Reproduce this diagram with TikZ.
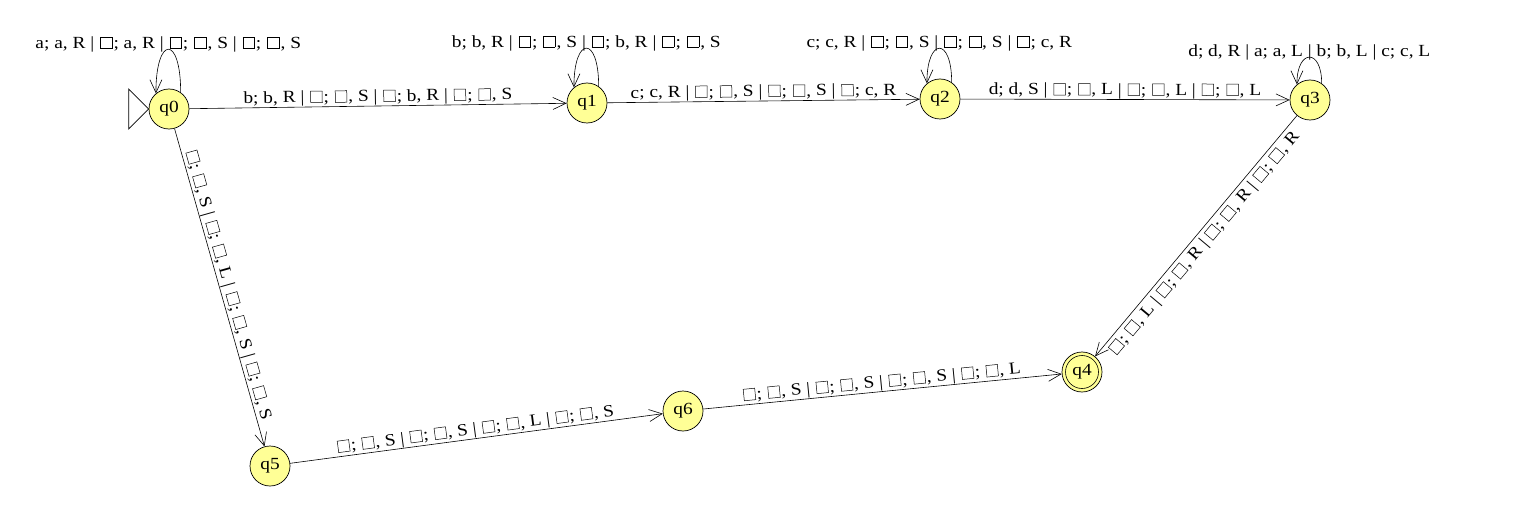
\documentclass[tikz,border=0pt]{standalone}
\usepackage{fontspec}
\setmainfont[FakeStretch=1.14]{Liberation Serif}
\usetikzlibrary{arrows.meta}
\definecolor{stfill}{RGB}{255,255,150}
\newcommand\tbx{\hspace{1.2pt}{\setlength{\fboxsep}{0pt}\setlength{\fboxrule}{0.5pt}\fbox{\rule{0pt}{11pt}\hspace{11pt}}}\hspace{1.2pt}}
\begin{document}
\begin{tikzpicture}[x=1pt,y=-1pt,font=\fontsize{17}{20}\selectfont,
  state/.style={circle, draw, line width=0.7pt, fill=stfill, minimum size=40pt, inner sep=0pt},
  edge/.style={draw, line width=0.6pt, -{Straight Barb[length=13pt,width=12pt,line width=0.6pt]}},
  lab/.style={inner sep=0.5pt, sloped},
  looplab/.style={anchor=base, inner sep=0pt, yshift=1pt}]
\useasboundingbox (0,0) rectangle (1526,532);
\node[state] (q0) at (169,109) {q0};
\node[state] (q1) at (587,103) {q1};
\node[state] (q2) at (940,99) {q2};
\node[state] (q3) at (1310,100) {q3};
\node[state] (q4) at (1082,372) {q4};
\node[state] (q5) at (270,466) {q5};
\node[state] (q6) at (683,411) {q6};
\draw[line width=0.6pt] (q4.center) circle[radius=16.5pt];
% initial marker
\draw[line width=0.7pt] (q0.west) -- ++(-20,-20) -- ++(0,40) -- cycle;
% loops
\draw[edge] (q0.55) .. controls +(0,-58) and +(0,-58) .. (q0.130)
  node[pos=0.5,looplab] {a; a, R | \tbx; a, R | \tbx; \tbx, S | \tbx; \tbx, S};
\draw[edge] (q1.55) .. controls +(0,-51.5) and +(0,-51.5) .. (q1.130)
  node[pos=0.5,looplab] {b; b, R | \tbx; \tbx, S | \tbx; b, R | \tbx; \tbx, S};
\draw[edge] (q2.55) .. controls +(0,-46) and +(0,-46) .. (q2.130)
  node[pos=0.5,looplab] {c; c, R | \tbx; \tbx, S | \tbx; \tbx, S | \tbx; c, R};
\draw[edge] (q3.55) .. controls +(0,-35.5) and +(0,-35.5) .. (q3.130)
  node[pos=0.5,looplab] {d; d, R | a; a, L | b; b, L | c; c, L};
% edges
\draw[edge] (q0) -- node[lab,above] {b; b, R | \tbx; \tbx, S | \tbx; b, R | \tbx; \tbx, S} (q1);
\draw[edge] (q1) -- node[lab,above] {c; c, R | \tbx; \tbx, S | \tbx; \tbx, S | \tbx; c, R} (q2);
\draw[edge] (q2) -- node[lab,above] {d; d, S | \tbx; \tbx, L | \tbx; \tbx, L | \tbx; \tbx, L} (q3);
\draw[edge] (q3) -- node[lab,below,inner sep=3.5pt] {\tbx; \tbx, L | \tbx; \tbx, R | \tbx; \tbx, R | \tbx; \tbx, R} (q4);
\draw[edge] (q0) -- node[lab,above] {\tbx; \tbx, S | \tbx; \tbx, L | \tbx; \tbx, S | \tbx; \tbx, S} (q5);
\draw[edge] (q5) -- node[lab,above] {\tbx; \tbx, S | \tbx; \tbx, S | \tbx; \tbx, L | \tbx; \tbx, S} (q6);
\draw[edge] (q6) -- node[lab,above] {\tbx; \tbx, S | \tbx; \tbx, S | \tbx; \tbx, S | \tbx; \tbx, L} (q4);
\end{tikzpicture}
\end{document}
